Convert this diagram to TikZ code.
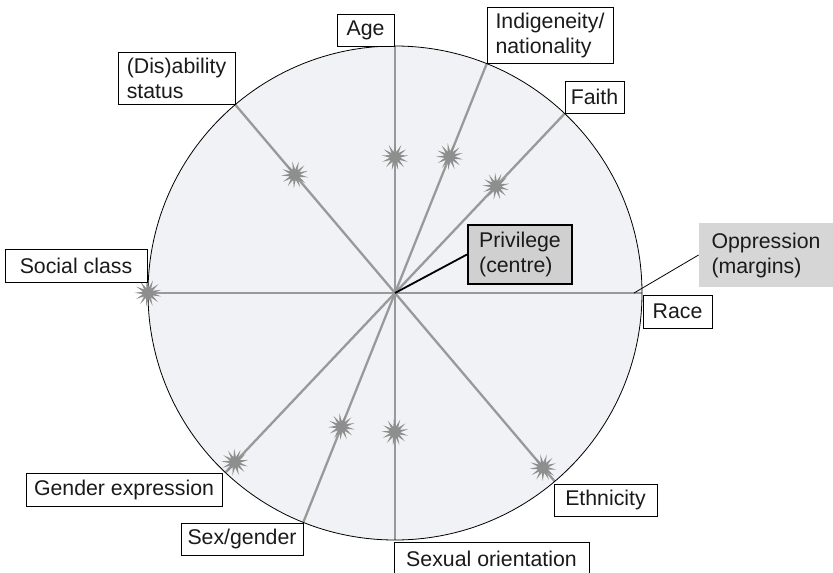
\documentclass[tikz,border=0pt]{standalone}
\usepackage{fontspec}
\setmainfont{Liberation Sans}
\usetikzlibrary{shapes.geometric}
\definecolor{diskfill}{HTML}{F1F2F5}
\definecolor{spoke}{HTML}{999999}
\definecolor{burstc}{HTML}{8E8E8E}
\definecolor{txt}{HTML}{1A1A1A}
\definecolor{privfill}{HTML}{D0D0D0}
\definecolor{oppfill}{HTML}{D6D6D6}
\begin{document}
\begin{tikzpicture}[x=1pt,y=-1pt,
  lbl/.style={draw=black, fill=white, line width=0.9pt, inner sep=0pt, align=left,
    text=txt, font=\fontsize{21.3}{25}\selectfont},
  spokeline/.style={draw=spoke, line width=2.3pt},
  burst/.style={shape=star, star points=13, star point ratio=2.6, minimum size=27pt,
    inner sep=0pt, fill=burstc, draw=none}]
\useasboundingbox (0,0) rectangle (833,573);
\coordinate (C) at (395,293);
% disc
\fill[diskfill] (C) circle[radius=247];
% spoke end points
\path (C) ++(-90:247) coordinate (eAge);
\path (C) ++(-68.2:247) coordinate (eInd);
\path (C) ++(-46.6:247) coordinate (eFai);
\path (C) ++(-130.3:247) coordinate (eDis);
\path (C) ++(-180:247) coordinate (eSoc);
\path (C) ++(0:247) coordinate (eRac);
\path (C) ++(-226.6:247) coordinate (eGen);
\path (C) ++(-248.2:247) coordinate (eSex);
\path (C) ++(-270:247) coordinate (eOri);
\path (C) ++(-310.3:247) coordinate (eEth);
\foreach \e in {eAge,eInd,eFai,eDis,eSoc,eRac,eGen,eSex,eOri,eEth}
  \draw[spokeline] (C) -- (\e);
\draw[black, line width=0.8pt] (C) circle[radius=247];
% bursts
\path (C) ++(-90:136) node[burst] (bAge) {};
\path (C) ++(-68.2:147) node[burst, rotate=8] (bInd) {};
\path (C) ++(-46.6:147) node[burst, rotate=4] (bFai) {};
\path (C) ++(-130.3:155) node[burst, rotate=10] (bDis) {};
\path (C) ++(-180:247) node[burst, rotate=6] (bSoc) {};
\path (C) ++(-226.6:233) node[burst, rotate=3] (bGen) {};
\path (C) ++(-248.2:144) node[burst, rotate=9] (bSex) {};
\path (C) ++(-270:139) node[burst, rotate=5] (bOri) {};
\path (C) ++(-310.3:229) node[burst, rotate=12] (bEth) {};
% labels
\node[lbl, minimum width=57pt, minimum height=32pt] (age) at (365.5,30) {Age};
\node[lbl, minimum width=117pt, minimum height=52pt] (dis) at (176.5,78) {(Dis)ability\\status};
\node[lbl, minimum width=126pt, minimum height=56pt] (ind) at (550,35) {Indigeneity/\\nationality};
\node[lbl, minimum width=59pt, minimum height=32pt] (fai) at (594.5,97) {Faith};
\node[lbl, minimum width=142pt, minimum height=33pt] (soc) at (76,265.5) {Social class};
\node[lbl, minimum width=69pt, minimum height=33pt] (rac) at (677.5,311.5) {Race};
\node[lbl, minimum width=196pt, minimum height=33pt] (gen) at (124,489.5) {Gender expression};
\node[lbl, minimum width=122pt, minimum height=32pt] (sex) at (242,539) {Sex/gender};
\node[lbl, minimum width=195pt, minimum height=33pt] (ori) at (491.5,558.5) {Sexual orientation};
\node[lbl, minimum width=103pt, minimum height=32pt] (eth) at (605.5,500) {Ethnicity};
% privilege and oppression
\node[lbl, fill=privfill, line width=2pt, minimum width=104pt, minimum height=59pt] (priv) at (520,254.5) {Privilege\\(centre)};
\node[lbl, fill=oppfill, draw=none, minimum width=134pt, minimum height=64pt] (opp) at (766,255) {Oppression\\(margins)};
\draw[black, line width=1.8pt] (C) -- (priv.west);
\coordinate (oppfoot) at (634,293);
\draw[black, line width=0.8pt] (oppfoot) -- (opp.west);
\end{tikzpicture}
\end{document}
